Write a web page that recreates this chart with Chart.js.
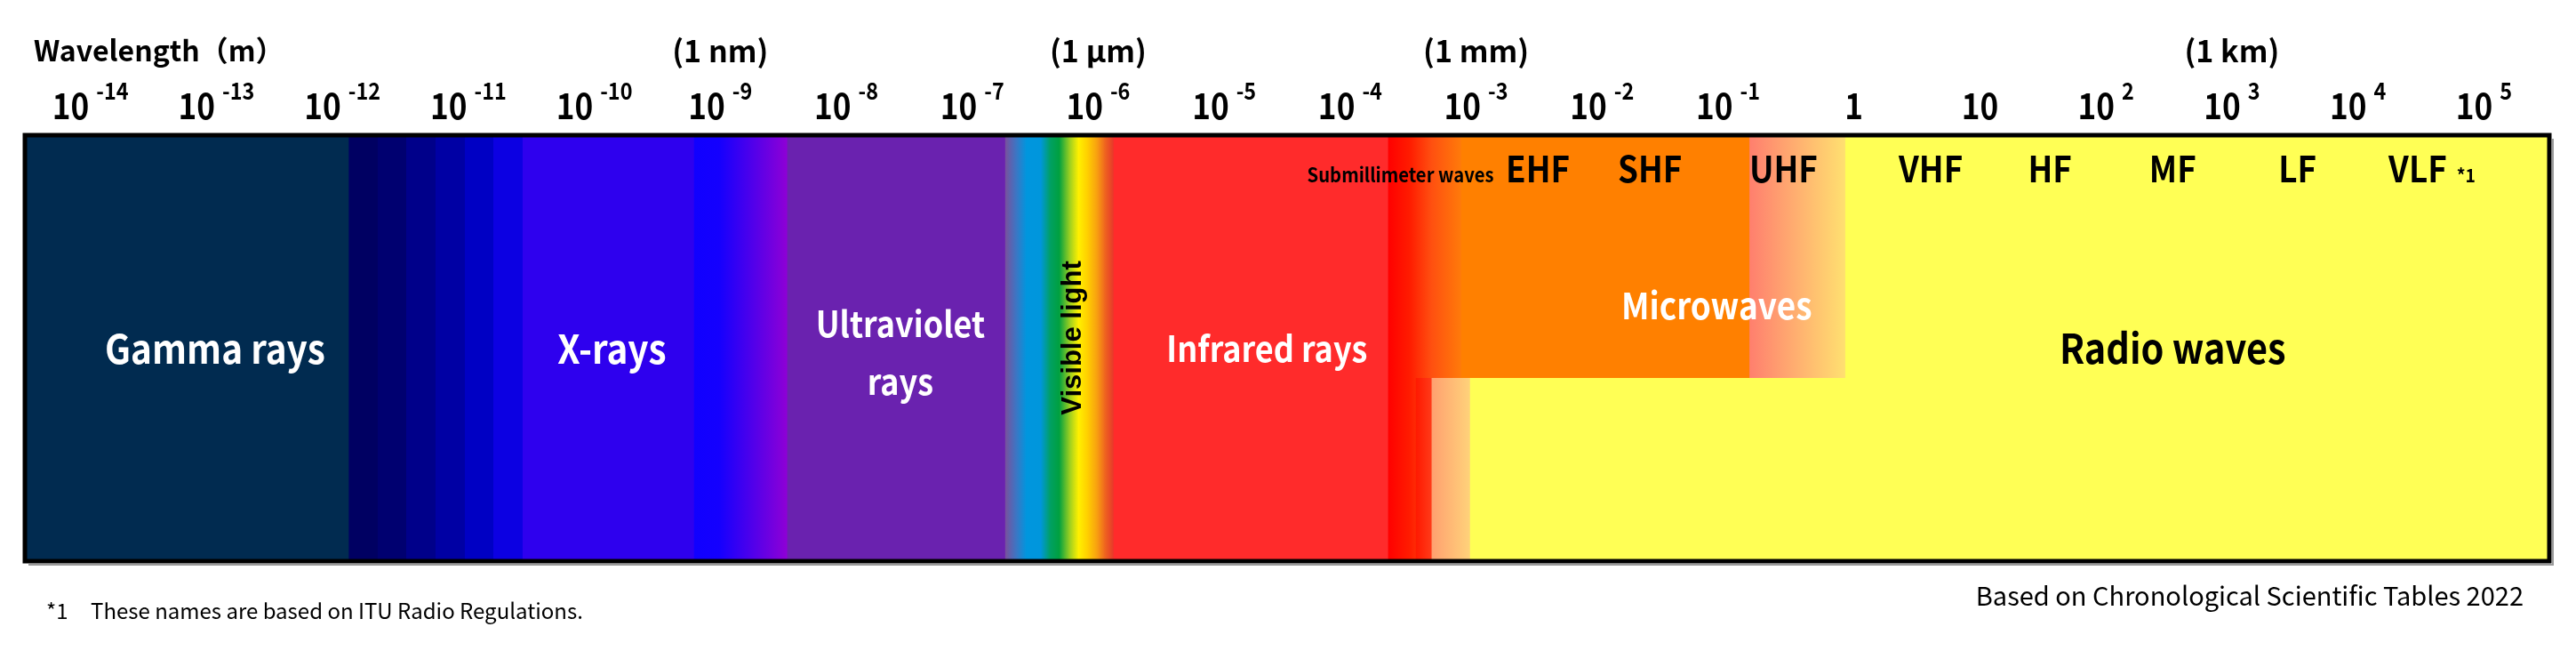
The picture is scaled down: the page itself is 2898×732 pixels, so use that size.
<!DOCTYPE html>
<html>
<head>
<meta charset="utf-8">
<title>Electromagnetic spectrum</title>
<script src="https://cdn.jsdelivr.net/npm/chart.js@4.4.1/dist/chart.umd.min.js"></script>
<style>
  html, body { margin: 0; padding: 0; background: #fff; }
  #wrap { width: 2898px; height: 732px; }
</style>
</head>
<body>
<div id="wrap"><canvas id="spectrum" width="2898" height="732"></canvas></div>
<script>
const F = "'Noto Sans CJK JP', 'Noto Sans', sans-serif";

// wavelength axis, log10 of metres
const axisMin = -14.52;
const axisMax = 5.52;

const tickExponents = [-14, -13, -12, -11, -10, -9, -8, -7, -6, -5, -4, -3, -2, -1, 0, 1, 2, 3, 4, 5];
const tickBase  = ['10', '10', '10', '10', '10', '10', '10', '10', '10', '10', '10', '10', '10', '10', '1', '10', '10', '10', '10', '10'];
const tickPower = ['-14', '-13', '-12', '-11', '-10', '-9', '-8', '-7', '-6', '-5', '-4', '-3', '-2', '-1', '', '', '2', '3', '4', '5'];

const unitExponents = [-9, -6, -3, 3];
const unitLabels = ['(1 nm)', '(1 μm)', '(1 mm)', '(1 km)'];

const bandNames = ['Gamma rays', 'X-rays', 'Ultraviolet rays', 'Visible light', 'Infrared rays', 'Microwaves', 'Radio waves'];

// colour strips: start / end (log10 m), lower / upper edge (0 = bottom of box, 1 = top)
const stripFrom = [-14.52, -11.95, -10.57, -9.21, -8.47, -6.74, -5.88, -3.70, -3.48, -3.12, -0.83, -3.05, -0.07];
const stripTo   = [-11.95, -10.57, -9.21, -8.47, -6.74, -5.88, -3.70, -3.12, -3.05, -0.83, -0.07, -0.07, 5.52];
const stripLow  = [0, 0, 0, 0, 0, 0, 0, 0, 0, 0.43, 0.43, 0, 0];
const stripHigh = [1, 1, 1, 1, 1, 1, 1, 1, 0.43, 1, 1, 0.43, 1];

// ITU radio band names
const radioNames = ['EHF', 'SHF', 'UHF', 'VHF', 'HF', 'MF', 'LF', 'VLF'];
const subMmName = 'Submillimeter waves';

function steps(cols) {
  const out = [];
  cols.forEach((c, k) => { out.push([k / cols.length, c], [(k + 1) / cols.length, c]); });
  return out;
}

const stripColours = [
  [[0, '#012B50'], [1, '#012B50']],
  steps(['#000062', '#000070', '#00008A', '#0000A4', '#0000C4', '#0C00E2']),
  [[0, '#2E00EE'], [1, '#2E00EE']],
  [[0, '#1000FF'], [0.27, '#1400FE'], [1, '#8E00D6']],
  [[0, '#6A22AF'], [1, '#6A22AF']],
  [[0, '#7A509C'], [0.1, '#3F74C2'], [0.2, '#0096DE'], [0.33, '#0096DC'], [0.42, '#00A062'], [0.5, '#00A040'],
   [0.6, '#9ED020'], [0.68, '#FFF000'], [0.76, '#FFD000'], [0.85, '#F8A010'], [0.93, '#EE6020'], [1, '#E63A2A']],
  [[0, '#FF2B2B'], [1, '#FF2B2B']],
  [[0, '#FF0000'], [0.3, '#FF1C00'], [0.6, '#FF5010'], [1, '#FF7A0A']],
  [[0, '#FF1800'], [0.29, '#FF3A18'], [0.3, '#FFA070'], [1, '#FFD27A']],
  [[0, '#FF8000'], [1, '#FF8000']],
  [[0, '#FF7F6E'], [0.5, '#FFB070'], [1, '#FFE070']],
  [[0, '#FFFF55'], [1, '#FFFF55']],
  [[0, '#FFFF55'], [1, '#FFFF55']]
];

function stripFill(chart, i) {
  const stops = stripColours[i];
  const xs = chart.scales.x;
  if (!chart.chartArea || !xs) return stops[0][1];
  const g = chart.ctx.createLinearGradient(xs.getPixelForValue(stripFrom[i]), 0, xs.getPixelForValue(stripTo[i]), 0);
  stops.forEach(s => g.addColorStop(s[0], s[1]));
  return g;
}

// each strip runs a little under its right-hand neighbour (drawn on top) so no white seams show
const seamOverlap = 0.03;
const datasets = stripFrom.map((from, i) => ({
  data: [{x: from, y: stripHigh[i]}, {x: stripTo[i] + seamOverlap, y: stripHigh[i]}],
  fill: {value: stripLow[i]},
  backgroundColor: ctx => stripFill(ctx.chart, i),
  borderColor: 'rgba(0,0,0,0)',
  borderWidth: 0,
  pointRadius: 0,
  tension: 0,
  order: -i
}));

// where the names sit inside the box
const bandLabelLayout = [
  {at: -13.01, v: 0.50, size: 45, colour: '#fff'},
  {at: -9.86, v: 0.50, size: 45, colour: '#fff'},
  {at: -7.57, v: 0.49, size: 40, colour: '#fff', lines: ['Ultraviolet', 'rays'], gap: 65},
  {at: -6.20, v: 0.524, size: 31, colour: '#000', rotate: true, family: "'Liberation Sans', Arial, sans-serif"},
  {at: -4.66, v: 0.50, size: 40, colour: '#fff'},
  {at: -1.09, v: 0.60, size: 41, colour: '#fff'},
  {at: 2.53, v: 0.50, size: 46, colour: '#000'}
];
const radioLabelAt = [-2.51, -1.62, -0.56, 0.61, 1.555, 2.53, 3.52, 4.475];

function squeezed(ctx, s, x, y, align, sx) {
  ctx.save();
  ctx.translate(x, y);
  ctx.scale(sx, 1);
  ctx.textAlign = align;
  ctx.fillText(s, 0, 0);
  ctx.restore();
}

const spectrumText = {
  id: 'spectrumText',
  afterDatasetsDraw(chart) {
    const {ctx, chartArea: a, scales: {x, y}} = chart;
    ctx.save();
    // frame with a faint shadow
    ctx.strokeStyle = '#9a9a9a';
    ctx.lineWidth = 2;
    ctx.beginPath();
    ctx.moveTo(a.left + 4, a.bottom + 4);
    ctx.lineTo(a.right + 4, a.bottom + 4);
    ctx.lineTo(a.right + 4, a.top + 4);
    ctx.stroke();
    ctx.strokeStyle = '#000';
    ctx.lineWidth = 5;
    ctx.strokeRect(a.left, a.top, a.right - a.left, a.bottom - a.top);

    ctx.textBaseline = 'middle';
    bandNames.forEach((name, i) => {
      const L = bandLabelLayout[i];
      const px = x.getPixelForValue(L.at);
      const py = y.getPixelForValue(L.v);
      ctx.fillStyle = L.colour;
      ctx.font = 'bold ' + L.size + 'px ' + (L.family || F);
      if (L.rotate) {
        ctx.save();
        ctx.translate(px, py);
        ctx.rotate(-Math.PI / 2);
        ctx.textAlign = 'center';
        ctx.fillText(name, 0, 0);
        ctx.restore();
      } else if (L.lines) {
        L.lines.forEach((t, k) => squeezed(ctx, t, px, py + (k - (L.lines.length - 1) / 2) * L.gap, 'center', 0.9));
      } else {
        squeezed(ctx, name, px, py, 'center', 0.9);
      }
    });

    // radio band names along the top
    ctx.fillStyle = '#000';
    ctx.textBaseline = 'alphabetic';
    const rowBase = y.getPixelForValue(0.918) + 14;
    ctx.font = 'bold 22px ' + F;
    squeezed(ctx, subMmName, x.getPixelForValue(-3.60), rowBase, 'center', 0.92);
    radioNames.forEach((n, i) => {
      ctx.font = 'bold 40px ' + F;
      const cx = x.getPixelForValue(radioLabelAt[i]);
      squeezed(ctx, n, cx, rowBase, 'center', 0.92);
      if (n === 'VLF') {
        const w = ctx.measureText(n).width * 0.92;
        ctx.font = 'bold 21px ' + F;
        squeezed(ctx, '*1', cx + w / 2 + 11, rowBase, 'left', 0.92);
      }
    });
    ctx.restore();
  },
  afterDraw(chart) {
    const {ctx, scales: {x}} = chart;
    ctx.save();
    ctx.fillStyle = '#000';

    // decade tick labels with raised exponents
    ctx.textBaseline = 'alphabetic';
    x.ticks.forEach(t => {
      const i = tickExponents.indexOf(t.value);
      if (i < 0) return;
      const base = tickBase[i], pow = tickPower[i];
      ctx.font = 'bold 40px ' + F;
      const wb = ctx.measureText(base).width * 0.88;
      ctx.font = 'bold 26px ' + F;
      const wp = pow ? ctx.measureText(pow).width * 0.9 : 0;
      const gap = pow ? 8 : 0;
      const left = x.getPixelForValue(t.value) - (wb + gap + wp) / 2;
      ctx.font = 'bold 40px ' + F;
      squeezed(ctx, base, left, 134, 'left', 0.88);
      if (pow) {
        ctx.font = 'bold 26px ' + F;
        squeezed(ctx, pow, left + wb + gap, 112, 'left', 0.9);
      }
    });

    ctx.textBaseline = 'middle';
    ctx.textAlign = 'left';
    ctx.font = 'bold 32px ' + F;
    ctx.fillText('Wavelength（m）', 38, 57);
    ctx.textAlign = 'center';
    ctx.font = 'bold 34px ' + F;
    unitLabels.forEach((t, i) => ctx.fillText(t, x.getPixelForValue(unitExponents[i]), 57));

    ctx.font = '24px ' + F;
    ctx.textAlign = 'left';
    ctx.fillText('*1', 52, 687);
    ctx.fillText('These names are based on ITU Radio Regulations.', 102, 687);
    ctx.font = '29px ' + F;
    ctx.textAlign = 'right';
    ctx.fillText('Based on Chronological Scientific Tables 2022', 2839, 670);
    ctx.restore();
  }
};

new Chart(document.getElementById('spectrum'), {
  type: 'line',
  data: {datasets: datasets},
  options: {
    responsive: false,
    animation: false,
    devicePixelRatio: 1,
    layout: {padding: {top: 152, bottom: 101, left: 28, right: 30}},
    plugins: {legend: {display: false}, tooltip: {enabled: false}},
    scales: {
      x: {
        type: 'linear',
        position: 'top',
        min: axisMin,
        max: axisMax,
        afterBuildTicks: s => { s.ticks = tickExponents.map(v => ({value: v})); },
        grid: {display: false, drawTicks: false},
        border: {display: false},
        ticks: {display: false}
      },
      y: {type: 'linear', min: 0, max: 1, display: false}
    }
  },
  plugins: [spectrumText]
});
</script>
</body>
</html>
